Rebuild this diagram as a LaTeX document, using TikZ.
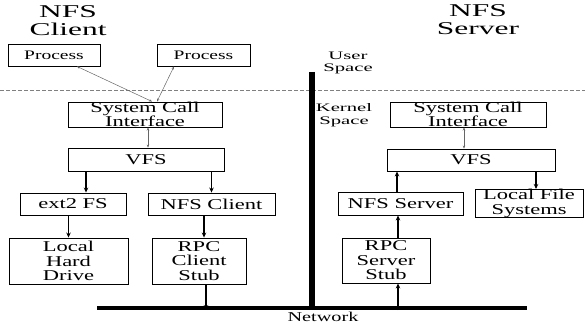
\documentclass[tikz,border=0pt]{standalone}
\usepackage{fontspec}
\setmainfont{Liberation Serif}[FakeStretch=1.5]
\newfontfamily\headfont{Liberation Serif}[FakeStretch=1.75]
\newfontfamily\sidefont{Liberation Serif}[FakeStretch=1.8]
\usetikzlibrary{arrows.meta}

\begin{document}
\begin{tikzpicture}[x=1pt,y=-1pt,
    box/.style={draw,line width=0.9pt,inner sep=0pt,align=center,
        font=\fontsize{15}{14.5}\selectfont},
    flow/.style={-{Stealth[length=5pt,width=4.5pt]},line width=1.1pt},
    call/.style={{Stealth[length=3pt,width=2.5pt]}-{Stealth[length=3pt,width=2.5pt]},
        gray!80!black,line width=0.5pt},
    head/.style={align=center,font=\headfont\fontsize{18}{18}\selectfont},
    side/.style={align=center,font=\sidefont\fontsize{11.5}{12.5}\selectfont}]

        % Frame
        \useasboundingbox (0,0) rectangle (585,323);

        % Sizes
        \def\barX{312}   % position of the separator
        \def\netY{308}   % level of the network line

        % Headers
        \node[head] (hdrC) at (68,21) {NFS\\Client};
        \node[head] (hdrS) at (478,20) {NFS\\Server};

        % User / kernel boundary
        \draw[gray,dashed,dash pattern=on 4pt off 2pt,line width=0.8pt] (0,90) -- (585,90);
        \node[side] (usr) at (348,63) {User\\Space};
        \node[side] (krn) at (344,115) {Kernel\\Space};

        % Separator and network
        \coordinate (barT) at (\barX,72);
        \coordinate (barB) at (\barX,\netY);
        \draw[line width=6.5pt] (barT) -- (barB);
        \coordinate (netL) at (97,\netY);
        \coordinate (netR) at (527,\netY);
        \draw[line width=4pt] (netL) -- (netR);
        \node[font=\fontsize{13.5}{13.5}\selectfont,anchor=south,inner sep=0pt] (net) at (323,321.5) {Network};

        % Client side
        \node[box,font=\fontsize{13}{13}\selectfont,minimum width=92pt,minimum height=22pt] (procL) at (54,55) {Process};
        \node[box,font=\fontsize{13}{13}\selectfont,minimum width=93pt,minimum height=22pt] (procR) at (203.5,55) {Process};
        \node[box,minimum width=154pt,minimum height=25pt] (sciL) at (145,114.5) {System Call\\Interface};
        \node[box,minimum width=156pt,minimum height=23pt] (vfsL) at (146,159.5) {VFS};
        \node[box,minimum width=106pt,minimum height=22pt] (ext2) at (73,204) {ext2 FS};
        \node[box,minimum width=127pt,minimum height=22pt] (nfsc) at (211.5,204) {NFS Client};
        \node[box,minimum width=119pt,minimum height=46pt] (disk) at (68.5,261) {Local\\Hard\\Drive};
        \node[box,minimum width=94pt,minimum height=46pt] (rpcc) at (199,261) {RPC\\Client\\Stub};

        % Server side
        \node[box,minimum width=156pt,minimum height=25pt] (sciR) at (468,114.5) {System Call\\Interface};
        \node[box,minimum width=168pt,minimum height=22pt] (vfsR) at (471,160) {VFS};
        \node[box,minimum width=125pt,minimum height=23pt] (nfss) at (400.5,203.5) {NFS Server};
        \node[box,minimum width=108pt,minimum height=23pt] (lfs) at (529,203.5) {Local File\\Systems};
        \node[box,minimum width=88pt,minimum height=45pt] (rpcs) at (386,260.5) {RPC\\Server\\Stub};

        % Client calls
        \draw[call] ([xshift=23pt]procL.south) -- ([xshift=7pt]sciL.north);
        \draw[call] ([xshift=-29.5pt]procR.south) -- ([xshift=12pt]sciL.north);
        \draw[call] ([xshift=3pt]sciL.south) -- ([xshift=2pt]vfsL.north);
        \draw[flow] ([xshift=13pt]ext2.north |- vfsL.south) -- ([xshift=13pt]ext2.north);
        \draw[flow] (vfsL.south -| nfsc.north) -- (nfsc.north);
        \draw[flow] (ext2.south -| disk.north) -- (disk.north);
        \draw[flow] ([xshift=5pt]rpcc.north |- nfsc.south) -- ([xshift=5pt]rpcc.north);
        \draw[flow] ([xshift=7pt]rpcc.south) -- ([xshift=7pt,yshift=-2pt]rpcc.south |- netL);

        % Server calls
        \draw[call] ([xshift=-4pt]sciR.south) -- ([xshift=-7pt]vfsR.north);
        \draw[flow] ([xshift=-3.5pt]nfss.north) -- ([xshift=-3.5pt]nfss.north |- vfsR.south);
        \draw[flow] (vfsR.south -| lfs.north) ++(7,0) -- ([xshift=7pt]lfs.north);
        \draw[flow] ([xshift=12pt]rpcs.north) -- ([xshift=12pt]rpcs.north |- nfss.south);
        \draw[flow] ([xshift=12pt,yshift=-2pt]rpcs.south |- netL) -- ([xshift=12pt]rpcs.south);

\end{tikzpicture}
\end{document}
